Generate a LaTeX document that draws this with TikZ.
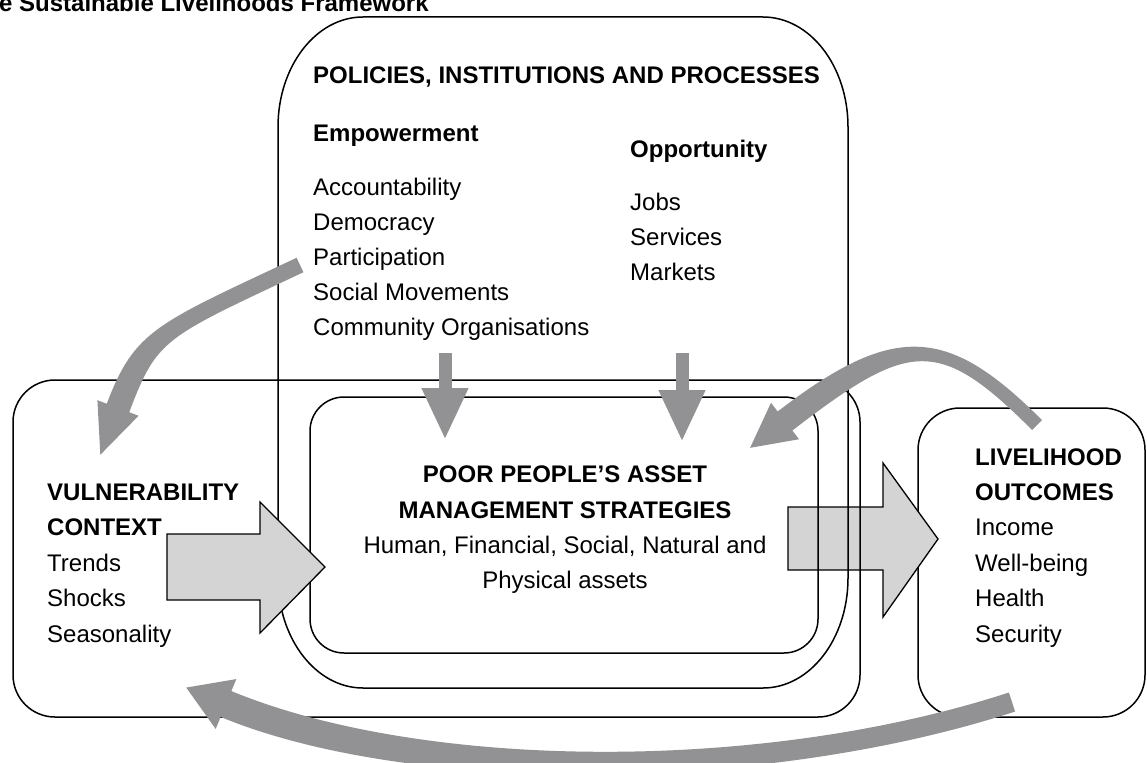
\documentclass[tikz,border=0pt]{standalone}
\usepackage{fontspec}
\setmainfont{Liberation Sans}
\usetikzlibrary{calc,arrows.meta}
\definecolor{arrowgrey}{RGB}{146,146,148}
\definecolor{blockgrey}{RGB}{212,212,212}
% tapered curved arrow: #1 start, #2 ctrl1, #3 ctrl2, #4 end of body, #5 half width at start, #6 half width at end, #7 half width of head, #8 head length
\newcommand{\fatcurve}[8]{%
  \fill[arrowgrey] ($(#1)!#5!90:(#2)$) .. controls ($(#2)!#5!-90:(#1)$) and ($(#3)!#6!90:(#4)$) .. ($(#4)!#6!-90:(#3)$)
    -- ($(#4)!#7!-90:(#3)$) -- ($(#4)!-#8!(#3)$) -- ($(#4)!#7!90:(#3)$) -- ($(#4)!#6!90:(#3)$)
    .. controls ($(#3)!#6!-90:(#4)$) and ($(#2)!#5!90:(#1)$) .. ($(#1)!#5!-90:(#2)$) -- cycle;}
\tikzset{
  box/.style={draw=black, line width=1.5pt},
  txt/.style={inner sep=0pt, anchor=base west, font=\fontsize{24}{29}\selectfont},
  btxt/.style={inner sep=0pt, anchor=base west, font=\fontsize{24}{29}\selectfont\bfseries},
  ctxt/.style={inner sep=0pt, anchor=base, font=\fontsize{24}{29}\selectfont},
  cbtxt/.style={inner sep=0pt, anchor=base, font=\fontsize{24}{29}\selectfont\bfseries},
  downarrow/.style={draw=arrowgrey, line width=13pt, -{Triangle[length=52pt,width=43pt]}},
  blockarrow/.style={draw=black, line width=1.3pt, fill=blockgrey, line join=miter},
}
\begin{document}
\begin{tikzpicture}[x=1pt,y=-1pt]
\useasboundingbox (0,0) rectangle (1147,762);
\clip (0,0) rectangle (1147,762);
\fill[white] (0,0) rectangle (1147,762);

% title (cut at the top)
\node[btxt] (title) at (-1,12) {e Sustainable Livelihoods Framework};

% livelihood outcomes box
\draw[box, rounded corners=42pt] (918,408) rectangle (1145,717);
% right block arrow (under the box lines)
\draw[blockarrow] (788,507) -- (883,507) -- (883,463) -- (938,539) -- (883,617) -- (883,570) -- (788,570) -- cycle;

% vulnerability context box
\draw[box, rounded corners=42pt] (13,380) rectangle (860,717);
% policies, institutions and processes box
\draw[box] (278,127) .. controls (278,66.2) and (316,17) .. (363,17) -- (763,17)
  .. controls (810,17) and (848,66.2) .. (848,127) -- (848,578)
  .. controls (848,638.8) and (810,688) .. (763,688) -- (363,688)
  .. controls (316,688) and (278,638.8) .. (278,578) -- cycle;
% asset management box
\draw[box, rounded corners=34pt] (310,397) rectangle (818,653);

% left block arrow
\draw[blockarrow] (167,534) -- (260,534) -- (260,502) -- (325,567) -- (260,633) -- (260,600) -- (167,600) -- cycle;

% down arrows
\coordinate (d1s) at (445,353); \coordinate (d1e) at (445,440);
\coordinate (d2s) at (682,353); \coordinate (d2e) at (682,442);
\draw[downarrow] (d1s) -- (d1e);
\draw[downarrow] (d2s) -- (d2e);

% curved arrows
\coordinate (a1p0) at (300,265); \coordinate (a1c1) at (160,331);
\coordinate (a1c2) at (146,334); \coordinate (a1p3) at (118,408);
\fatcurve{a1p0}{a1c1}{a1c2}{a1p3}{8pt}{12pt}{22pt}{50pt}

\coordinate (a2p0) at (1037,425); \coordinate (a2c1) at (943,331);
\coordinate (a2c2) at (902,331); \coordinate (a2p3) at (785,421);
\fatcurve{a2p0}{a2c1}{a2c2}{a2p3}{7pt}{12pt}{23pt}{44pt}

\coordinate (a3p0) at (1012,702); \coordinate (a3c1) at (764,783);
\coordinate (a3c2) at (417,783); \coordinate (a3p3) at (226,704);
\fatcurve{a3p0}{a3c1}{a3c2}{a3p3}{10pt}{14pt}{27pt}{43pt}

% texts: policies
\node[btxt] (pip) at (313,84) {POLICIES, INSTITUTIONS AND PROCESSES};
\node[btxt] (emp) at (313,142) {Empowerment};
\node[btxt] (opp) at (630,158) {Opportunity};
\foreach \t [count=\i] in {Accountability,Democracy,Participation,Social Movements,Community Organisations}
  \node[txt] (e\i) at (313,{195+35*(\i-1)}) {\t};
\foreach \t [count=\i] in {Jobs,Services,Markets}
  \node[txt] (o\i) at (630,{210+35*(\i-1)}) {\t};

% vulnerability
\node[btxt] (vt1) at (47,500) {VULNERABILITY};
\node[btxt] (vt2) at (47,535.5) {CONTEXT};
\foreach \t [count=\i] in {Trends,Shocks,Seasonality}
  \node[txt] (v\i) at (47,{571+35.5*(\i-1)}) {\t};

% livelihood outcomes
\node[btxt] (lt1) at (975,465) {LIVELIHOOD};
\node[btxt] (lt2) at (975,500) {OUTCOMES};
\foreach \t [count=\i] in {Income,Well-being,Health,Security}
  \node[txt] (l\i) at (975,{535.5+35.5*(\i-1)}) {\t};

% asset strategies
\node[cbtxt] (m1) at (565,482) {POOR PEOPLE’S ASSET};
\node[cbtxt] (m2) at (565,518) {MANAGEMENT STRATEGIES};
\node[ctxt] (m3) at (565,553) {Human, Financial, Social, Natural and};
\node[ctxt] (m4) at (565,588) {Physical assets};
\end{tikzpicture}
\end{document}
